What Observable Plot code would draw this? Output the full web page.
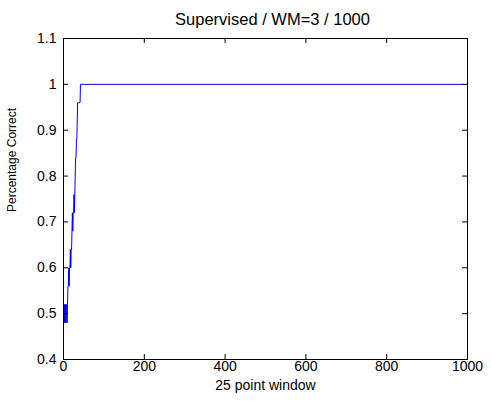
<!DOCTYPE html>
<html>
<head>
<meta charset="utf-8">
<script src="https://cdn.jsdelivr.net/npm/d3@7"></script>
<script src="https://cdn.jsdelivr.net/npm/@observablehq/plot@0.6"></script>
<style>
  html, body { margin: 0; padding: 0; background: #fff; }
  #chart svg { font-family: Arial, "Liberation Sans", sans-serif; }
</style>
</head>
<body>
<div id="chart"></div>
<script>
const titleText = "Supervised / WM=3 / 1000";
const xLabel = "25 point window";
const yLabel = "Percentage Correct";

const windowIdx = [1,2,3,4,5,6,7,8,9,10,11,12,13,14,15,16,17,18,19,20,21,22,23,24,25,26,27,28,29,30,31,32,33,34,35,36,37,38,39,40,41,42,988];
const accuracy  = [0.52,0.48,0.52,0.48,0.52,0.48,0.52,0.52,0.48,0.52,0.56,0.56,0.60,0.56,0.60,0.60,0.64,0.60,0.64,0.64,0.68,0.72,0.68,0.72,0.72,0.76,0.72,0.76,0.80,0.84,0.84,0.88,0.88,0.92,0.96,0.96,0.96,0.96,0.96,0.96,0.96,1.00,1.00];

const xTicks = [0,200,400,600,800,1000];
const yTicks = [0.4,0.5,0.6,0.7,0.8,0.9,1.0,1.1];

const data = windowIdx.map((x, i) => ({x, y: accuracy[i]}));

const W = 491, H = 401;
const mL = 63, mR = 24, mT = 38, mB = 42;
const fw = W - mL - mR, fh = H - mT - mB;
const tk = 5;

const chart = Plot.plot({
  width: W, height: H,
  marginLeft: mL, marginRight: mR, marginTop: mT, marginBottom: mB,
  style: {fontFamily: "Arial, 'Liberation Sans', sans-serif", fontSize: "14px", color: "#000", background: "#fff", overflow: "visible"},
  x: {domain: [0, 1000], ticks: xTicks, tickFormat: d => String(d)},
  y: {domain: [0.4, 1.1], ticks: yTicks, tickFormat: d => String(+d.toFixed(1))},
  marks: [
    Plot.line(data, {x: "x", y: "y", stroke: "#0000ff", strokeWidth: 1}),
    Plot.ruleX(xTicks, {x: d => d, insetTop: fh - tk, stroke: "#000"}),
    Plot.ruleX(xTicks, {x: d => d, insetBottom: fh - tk, stroke: "#000"}),
    Plot.ruleY(yTicks, {y: d => d, insetRight: fw - tk, stroke: "#000"}),
    Plot.ruleY(yTicks, {y: d => d, insetLeft: fw - tk, stroke: "#000"}),
    Plot.frame({stroke: "#000", strokeWidth: 1}),
    Plot.axisX({ticks: xTicks, tickSize: 0, tickPadding: 2, label: null, fontSize: 14, tickFormat: d => String(d)}),
    Plot.axisY({ticks: yTicks, tickSize: 0, tickPadding: 7, label: null, fontSize: 14, tickFormat: d => String(+d.toFixed(1))}),
    Plot.text([titleText], {frameAnchor: "top", dy: -25, dx: 7, fontSize: 16.5, text: d => d}),
    Plot.text([xLabel], {frameAnchor: "bottom", dy: 30, dx: 0, fontSize: 14, text: d => d}),
    Plot.text([yLabel], {frameAnchor: "left", dx: -51, dy: 13, rotate: -90, fontSize: 12, text: d => d})
  ]
});
document.getElementById("chart").appendChild(chart);
</script>
</body>
</html>
